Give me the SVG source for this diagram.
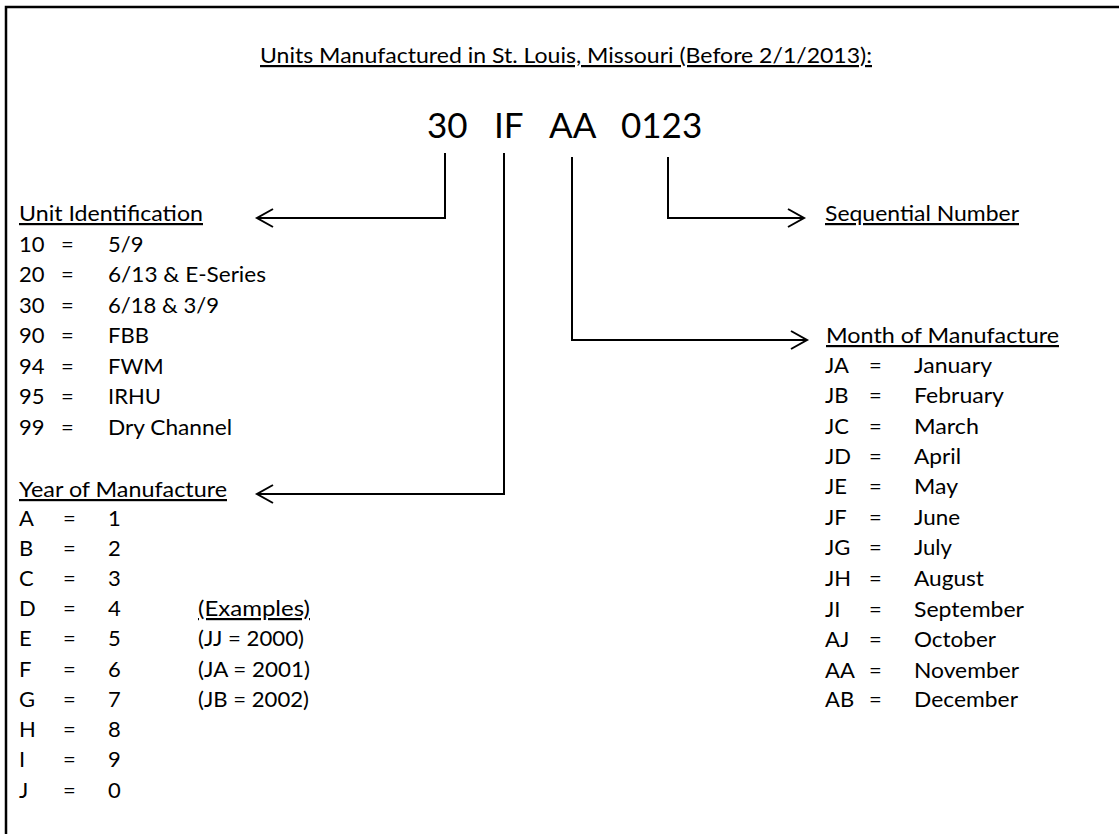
<svg xmlns="http://www.w3.org/2000/svg" width="1119" height="834" viewBox="0 0 1119 834">
<style>
  text { font-family: Lato, "Open Sans", "Liberation Sans", sans-serif; font-size: 22px; fill: #000; }
  .u { text-decoration: underline; }
  .big { font-size: 35px; }
  .conn { fill: none; stroke: #000; stroke-width: 2; }
  .frame { fill: none; stroke: #000; stroke-width: 2.5; }
</style>
<defs>
  <marker id="arrow" markerUnits="userSpaceOnUse" markerWidth="24" markerHeight="24" viewBox="-20 -12 24 24" refX="0" refY="0" orient="auto">
    <path d="M-16,-9 L0,0 L-16,9" fill="none" stroke="#000" stroke-width="2"/>
  </marker>
</defs>
<rect width="1119" height="834" fill="#fff"/>
<path class="frame" d="M6,834 V7 H1119"/>

<g id="title">
  <text class="u" x="260" y="63" textLength="612" lengthAdjust="spacingAndGlyphs">Units Manufactured in St. Louis, Missouri (Before 2/1/2013):</text>
</g>

<g id="code">
  <text class="big" x="427" y="138">30</text>
  <text class="big" x="494" y="138">IF</text>
  <text class="big" x="549" y="138">AA</text>
  <text class="big" x="621" y="138">0123</text>
</g>

<g id="connectors">
  <path class="conn" d="M445,153 V218 H257" marker-end="url(#arrow)"/>
  <path class="conn" d="M504,153 V494 H257" marker-end="url(#arrow)"/>
  <path class="conn" d="M572,157 V340 H807" marker-end="url(#arrow)"/>
  <path class="conn" d="M668,157 V218 H804" marker-end="url(#arrow)"/>
</g>

<g id="unit-identification">
  <text class="u" x="19" y="221" textLength="184" lengthAdjust="spacingAndGlyphs">Unit Identification</text>
  <text x="19" y="252">10</text><text x="61" y="252">=</text><text x="108" y="252">5/9</text>
  <text x="19" y="282">20</text><text x="61" y="282">=</text><text x="108" y="282" textLength="158" lengthAdjust="spacingAndGlyphs">6/13 &amp; E-Series</text>
  <text x="19" y="313">30</text><text x="61" y="313">=</text><text x="108" y="313" textLength="111" lengthAdjust="spacingAndGlyphs">6/18 &amp; 3/9</text>
  <text x="19" y="343">90</text><text x="61" y="343">=</text><text x="108" y="343">FBB</text>
  <text x="19" y="374">94</text><text x="61" y="374">=</text><text x="108" y="374">FWM</text>
  <text x="19" y="404">95</text><text x="61" y="404">=</text><text x="108" y="404">IRHU</text>
  <text x="19" y="435">99</text><text x="61" y="435">=</text><text x="108" y="435" textLength="124" lengthAdjust="spacingAndGlyphs">Dry Channel</text>
</g>

<g id="year-of-manufacture">
  <text class="u" x="19" y="497" textLength="208" lengthAdjust="spacingAndGlyphs">Year of Manufacture</text>
  <text x="19" y="526">A</text><text x="63" y="526">=</text><text x="108" y="526">1</text>
  <text x="19" y="556">B</text><text x="63" y="556">=</text><text x="108" y="556">2</text>
  <text x="19" y="586">C</text><text x="63" y="586">=</text><text x="108" y="586">3</text>
  <text x="19" y="616">D</text><text x="63" y="616">=</text><text x="108" y="616">4</text>
  <text x="19" y="646">E</text><text x="63" y="646">=</text><text x="108" y="646">5</text>
  <text x="19" y="677">F</text><text x="63" y="677">=</text><text x="108" y="677">6</text>
  <text x="19" y="707">G</text><text x="63" y="707">=</text><text x="108" y="707">7</text>
  <text x="19" y="737">H</text><text x="63" y="737">=</text><text x="108" y="737">8</text>
  <text x="19" y="767">I</text><text x="63" y="767">=</text><text x="108" y="767">9</text>
  <text x="19" y="798">J</text><text x="63" y="798">=</text><text x="108" y="798">0</text>
</g>

<g id="examples">
  <text class="u" x="198" y="616" textLength="112" lengthAdjust="spacingAndGlyphs">(Examples)</text>
  <text x="198" y="646" textLength="106" lengthAdjust="spacingAndGlyphs">(JJ = 2000)</text>
  <text x="198" y="677" textLength="112" lengthAdjust="spacingAndGlyphs">(JA = 2001)</text>
  <text x="198" y="707" textLength="111" lengthAdjust="spacingAndGlyphs">(JB = 2002)</text>
</g>

<g id="sequential-number">
  <text class="u" x="825" y="221" textLength="194" lengthAdjust="spacingAndGlyphs">Sequential Number</text>
</g>

<g id="month-of-manufacture">
  <text class="u" x="826" y="343" textLength="233" lengthAdjust="spacingAndGlyphs">Month of Manufacture</text>
  <text x="825" y="373">JA</text><text x="869" y="373">=</text><text x="914" y="373" textLength="78" lengthAdjust="spacingAndGlyphs">January</text>
  <text x="825" y="403">JB</text><text x="869" y="403">=</text><text x="914" y="403" textLength="90" lengthAdjust="spacingAndGlyphs">February</text>
  <text x="825" y="434">JC</text><text x="869" y="434">=</text><text x="914" y="434" textLength="65" lengthAdjust="spacingAndGlyphs">March</text>
  <text x="825" y="464">JD</text><text x="869" y="464">=</text><text x="914" y="464" textLength="47" lengthAdjust="spacingAndGlyphs">April</text>
  <text x="825" y="494">JE</text><text x="869" y="494">=</text><text x="914" y="494" textLength="44" lengthAdjust="spacingAndGlyphs">May</text>
  <text x="825" y="525">JF</text><text x="869" y="525">=</text><text x="914" y="525" textLength="46" lengthAdjust="spacingAndGlyphs">June</text>
  <text x="825" y="555">JG</text><text x="869" y="555">=</text><text x="914" y="555" textLength="38" lengthAdjust="spacingAndGlyphs">July</text>
  <text x="825" y="586">JH</text><text x="869" y="586">=</text><text x="914" y="586" textLength="70" lengthAdjust="spacingAndGlyphs">August</text>
  <text x="825" y="617">JI</text><text x="869" y="617">=</text><text x="914" y="617" textLength="110" lengthAdjust="spacingAndGlyphs">September</text>
  <text x="825" y="647">AJ</text><text x="869" y="647">=</text><text x="914" y="647" textLength="82" lengthAdjust="spacingAndGlyphs">October</text>
  <text x="825" y="678">AA</text><text x="869" y="678">=</text><text x="914" y="678" textLength="105" lengthAdjust="spacingAndGlyphs">November</text>
  <text x="825" y="707">AB</text><text x="869" y="707">=</text><text x="914" y="707" textLength="104" lengthAdjust="spacingAndGlyphs">December</text>
</g>
</svg>
